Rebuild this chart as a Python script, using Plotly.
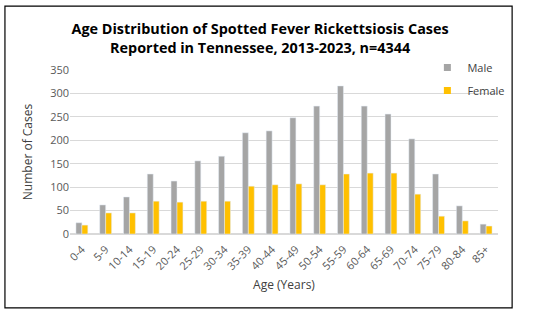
import plotly.graph_objects as go

# Age groups and case counts
age_groups = ["0-4", "5-9", "10-14", "15-19", "20-24", "25-29", "30-34", "35-39",
              "40-44", "45-49", "50-54", "55-59", "60-64", "65-69", "70-74",
              "75-79", "80-84", "85+"]
male = [24, 62, 79, 128, 113, 156, 166, 216, 220, 248, 273, 316, 273, 256, 203,
        128, 60, 21]
female = [19, 45, 45, 70, 68, 70, 70, 102, 105, 107, 105, 128, 130, 130, 85,
          38, 28, 17]

MALE_C = "#a5a5a5"
FEMALE_C = "#ffc000"
FONT = "Open Sans"

fig = go.Figure()
fig.add_trace(go.Bar(x=age_groups, y=male, name="Male", marker_color=MALE_C,
                     showlegend=False))
fig.add_trace(go.Bar(x=age_groups, y=female, name="Female", marker_color=FEMALE_C,
                     showlegend=False))
# legend entries with small square swatches
for name, color in [("Male", MALE_C), ("Female", FEMALE_C)]:
    fig.add_trace(go.Scatter(x=[None], y=[None], mode="markers", name=name,
                             legendgroup=name,
                             marker=dict(symbol="square", size=7, color=color)))

fig.update_layout(
    width=533, height=317,
    paper_bgcolor="white", plot_bgcolor="white",
    font=dict(family=FONT, color="#595959", size=11),
    title=dict(text="Age Distribution of Spotted Fever Rickettsiosis Cases<br>"
                    "Reported in Tennessee, 2013-2023, n=4344",
               x=0.488, xanchor="center", y=0.893, yanchor="top",
               font=dict(family=FONT, size=14.4, color="black", weight="bold")),
    barmode="group", bargap=0.5, bargroupgap=0,
    margin=dict(l=70, r=35, t=70, b=83, autoexpand=False),
    legend=dict(x=0.835, xanchor="left", y=1.104, yanchor="top",
                traceorder="grouped", tracegroupgap=4,
                font=dict(size=11, color="#404040"),
                bgcolor="rgba(0,0,0,0)", itemwidth=30),
    shapes=[dict(type="rect", xref="paper", yref="paper",
                 x0=-0.152, x1=1.033, y0=-0.451, y1=1.39,
                 line=dict(color="black", width=1.2), layer="below")],
)
fig.update_yaxes(range=[0, 350], dtick=50, showgrid=True, gridcolor="#d9d9d9",
                 gridwidth=1, zeroline=True, zerolinecolor="#d9d9d9",
                 ticks="", showline=False, automargin=False,
                 title=dict(text="Number of Cases", font=dict(size=12, color="#404040"),
                            standoff=14),
                 tickfont=dict(size=11, color="#595959"))
fig.update_xaxes(tickangle=-45, showline=False, ticks="", automargin=False,
                 ticklabelstandoff=6,
                 tickfont=dict(size=11, color="#595959"),
                 title=dict(text="Age (Years)", font=dict(size=12, color="#404040"),
                            standoff=8))

fig.write_html("out.html", config={"displayModeBar": False},
               post_script="document.body.style.margin='0';")
